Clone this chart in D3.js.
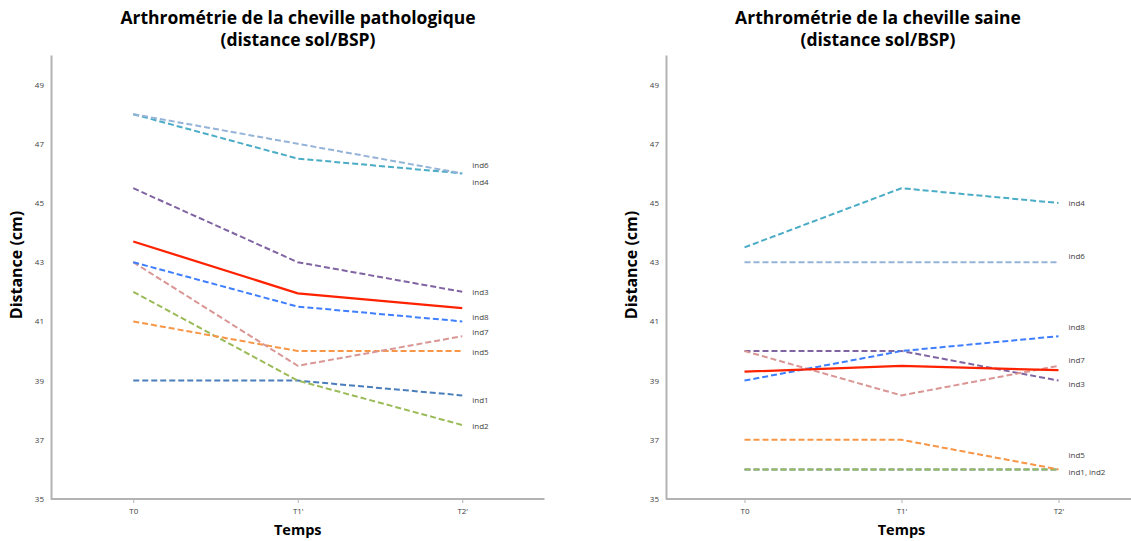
<!DOCTYPE html>
<html><head><meta charset="utf-8">
<script src="https://cdn.jsdelivr.net/npm/d3@7"></script>
<style>body{margin:0;background:#fff}svg{display:block}</style>
</head><body>
<script>
const categories = ["T0", "T1'", "T2'"];
const yTicks = [35, 37, 39, 41, 43, 45, 47, 49];
const seriesNames = ["ind1","ind2","ind3","ind4","ind5","ind6","ind7","ind8","moyenne"];
// Pathologic ankle
const pathInd1 = [39, 39, 38.5];
const pathInd2 = [42, 39, 37.5];
const pathInd3 = [45.5, 43, 42];
const pathInd4 = [48, 46.5, 46];
const pathInd5 = [41, 40, 40];
const pathInd6 = [48, 47, 46];
const pathInd7 = [43, 39.5, 40.5];
const pathInd8 = [43, 41.5, 41];
const pathMean = [43.7, 41.95, 41.45];
// Healthy ankle
const sainInd1 = [36, 36, 36];
const sainInd2 = [36, 36, 36];
const sainInd3 = [40, 40, 39];
const sainInd4 = [43.5, 45.5, 45];
const sainInd5 = [37, 37, 36];
const sainInd6 = [43, 43, 43];
const sainInd7 = [40, 38.5, 39.5];
const sainInd8 = [39, 40, 40.5];
const sainMean = [39.3, 39.5, 39.35];
// End labels (text, value where label sits)
const pathLabels = [["ind6",46.3],["ind4",45.7],["ind3",42],["ind8",41.15],["ind7",40.65],["ind5",39.95],["ind1",38.35],["ind2",37.45]];
const sainLabels = [["ind4",45],["ind6",43.2],["ind8",40.8],["ind7",39.7],["ind3",38.9],["ind5",36.5],["ind1, ind2",35.9]];

const colors = {ind1:"#4a7ebb", ind2:"#9bbb59", ind3:"#8064a2", ind4:"#4bacc6", ind5:"#f79646",
  ind6:"#95b3d7", ind7:"#d99694", ind8:"#3f7fff", moyenne:"#ff2200"};

const W = 1131, H = 541;
const svg = d3.select("body").append("svg").attr("width", W).attr("height", H);

function drawChart(cfg) {
  const g = svg.append("g");
  const x = d3.scalePoint().domain(categories).range([cfg.x0 + cfg.step/2, cfg.x0 + cfg.step*2.5]);
  const y = d3.scaleLinear().domain([35, 50]).range([499, 55]);

  // title
  const t = g.append("text").attr("text-anchor","middle")
    .attr("font-family","'Open Sans', sans-serif").attr("font-weight","bold").attr("font-size",17.5).attr("fill","#000");
  t.append("tspan").attr("x", cfg.titleX).attr("y", 24).text(cfg.title1);
  t.append("tspan").attr("x", cfg.titleX).attr("y", 46).text("(distance sol/BSP)");

  // axes
  const yAxis = d3.axisLeft(y).tickValues(yTicks).tickSize(0).tickPadding(7);
  const ya = g.append("g").attr("transform", `translate(${cfg.x0},0)`).call(yAxis);
  ya.select(".domain").attr("stroke","#b3b3b3").attr("stroke-width",2);
  ya.selectAll("text").attr("font-family","'Open Sans', sans-serif").attr("font-size",8).attr("fill","#404040");

  const xAxis = d3.axisBottom(x).tickSize(4).tickSizeOuter(0).tickPadding(5);
  const xa = g.append("g").attr("transform", `translate(0,499)`).call(xAxis);
  xa.select(".domain").attr("stroke","#b3b3b3").attr("stroke-width",2)
    .attr("d", `M${cfg.x0},0H${cfg.x0 + cfg.step*3}`);
  xa.selectAll(".tick line").attr("stroke","#b3b3b3");
  xa.selectAll("text").attr("font-family","'Open Sans', sans-serif").attr("font-size",8).attr("fill","#404040");

  // axis titles
  g.append("text").attr("transform", `translate(${cfg.x0 - 29},${265}) rotate(-90)`)
    .attr("text-anchor","middle").attr("font-family","'Open Sans', sans-serif").attr("font-weight","bold")
    .attr("font-size",16).text("Distance (cm)");
  g.append("text").attr("x", x("T1'")).attr("y", 535).attr("text-anchor","middle")
    .attr("font-family","'Open Sans', sans-serif").attr("font-weight","bold").attr("font-size",14.5).text("Temps");

  const line = d3.line().x((d,i) => x(categories[i])).y(d => y(d));
  cfg.series.forEach((vals, k) => {
    const name = seriesNames[k];
    g.append("path").attr("d", line(vals)).attr("fill","none")
      .attr("stroke", colors[name])
      .attr("stroke-width", name === "moyenne" ? 2.25 : 2)
      .attr("stroke-dasharray", name === "moyenne" ? null : "6,3");
  });

  g.selectAll(".lbl").data(cfg.labels).enter().append("text")
    .attr("x", x("T2'") + 10).attr("y", d => y(d[1]) + 3)
    .attr("font-family","'Open Sans', sans-serif").attr("font-size",8).attr("fill","#404040")
    .text(d => d[0]);
}

drawChart({x0: 51, step: 164.5, titleX: 298, title1: "Arthrométrie de la cheville pathologique",
  series: [pathInd1,pathInd2,pathInd3,pathInd4,pathInd5,pathInd6,pathInd7,pathInd8,pathMean], labels: pathLabels});
drawChart({x0: 666, step: 157, titleX: 878, title1: "Arthrométrie de la cheville saine",
  series: [sainInd1,sainInd2,sainInd3,sainInd4,sainInd5,sainInd6,sainInd7,sainInd8,sainMean], labels: sainLabels});
</script>
</body></html>
